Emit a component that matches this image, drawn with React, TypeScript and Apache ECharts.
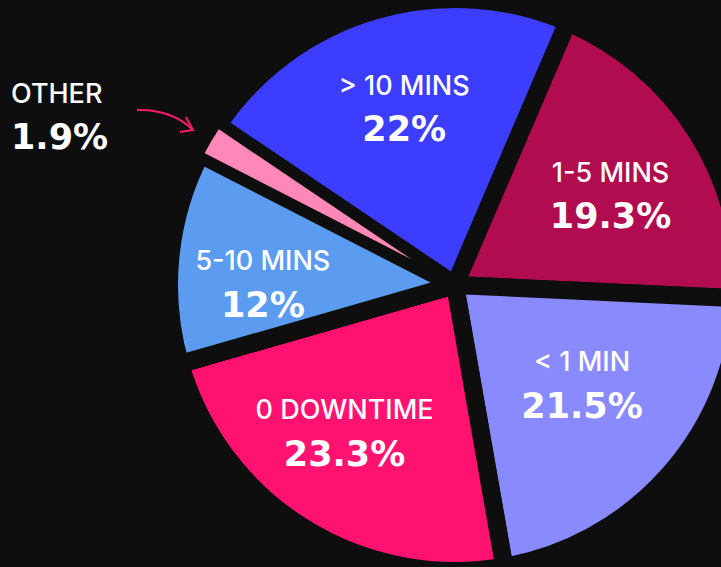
import React, { useEffect, useRef } from 'react';
import * as echarts from 'echarts';

const categories = ['> 10 MINS', '1-5 MINS', '< 1 MIN', '0 DOWNTIME', '5-10 MINS', 'OTHER'];
const values = [22, 19.3, 21.5, 23.3, 12, 1.9];
const colors = ['#3d3dff', '#b00c4f', '#8a8aff', '#ff1270', '#5c9cf0', '#ff88b8'];

// layout-only nudges for the in-slice labels (px)
const labelNudges: number[][] = [[0, -5], [3, 5], [-8, -20], [-15, -6], [-13, 15], [0, 0]];

const BG = '#0e0e0e';
const CX = 455;
const CY = 285;
const RADIUS = 286;
const START = 146;
const LABEL_R = 180;

export default function App() {
  const ref = useRef<HTMLDivElement>(null);
  useEffect(() => {
    document.body.style.margin = '0';
    document.body.style.background = BG;
    const chart = echarts.init(ref.current!, null, { renderer: 'svg' });
    const total = values.reduce((a, b) => a + b, 0);
    const mids: number[] = [];
    let cum = 0;
    values.forEach((v) => {
      mids.push(START - ((cum + v / 2) / total) * 360);
      cum += v;
    });
    const option: any = {
      animation: false,
      backgroundColor: BG,
      series: [
        {
          type: 'pie',
          center: [CX, CY],
          radius: RADIUS,
          startAngle: START,
          clockwise: true,
          silent: true,
          avoidLabelOverlap: false,
          data: categories.map((name, i) => ({
            name,
            value: values[i],
            itemStyle: {
              color: colors[i],
              borderColor: BG,
              borderWidth: name === 'OTHER' ? 6 : 18,
            },
          })),
          label: {
            show: true,
            position: 'inside',
            formatter: '{n|{b}}\n{p|{c}%}',
            color: '#fff',
            rich: {
              n: {
                fontFamily: 'Inter',
                fontWeight: 500,
                fontSize: 27,
                color: '#ffffff',
                lineHeight: 44,
              },
              p: {
                fontFamily: 'DejaVu Sans',
                fontWeight: 'bold',
                fontSize: 35,
                color: '#ffffff',
                lineHeight: 44,
              },
            },
          },
          labelLine: { show: false },
          labelLayout: (params: any) => {
            const i = params.dataIndex;
            if (categories[i] === 'OTHER') {
              return { x: 11, y: 115, align: 'left', verticalAlign: 'middle' };
            }
            const a = (mids[i] * Math.PI) / 180;
            return {
              x: CX + LABEL_R * Math.cos(a) + labelNudges[i][0],
              y: CY - LABEL_R * Math.sin(a) + labelNudges[i][1],
              align: 'center',
              verticalAlign: 'middle',
            };
          },
        },
      ],
      graphic: [
        {
          type: 'bezierCurve',
          silent: true,
          shape: { x1: 137, y1: 110, cpx1: 160, cpy1: 109, cpx2: 180, cpy2: 117, x2: 193, y2: 130 },
          style: { stroke: '#ff1a6e', lineWidth: 2, fill: null },
        },
        {
          type: 'polyline',
          silent: true,
          shape: { points: [[186, 117], [193, 130], [180, 132]] },
          style: { stroke: '#ff1a6e', lineWidth: 2, fill: null },
        },
      ],
    };
    chart.setOption(option);
    return () => chart.dispose();
  }, []);
  return (
    <div
      ref={ref}
      style={{ position: 'fixed', left: 0, top: 0, width: 721, height: 567, background: BG }}
    />
  );
}
